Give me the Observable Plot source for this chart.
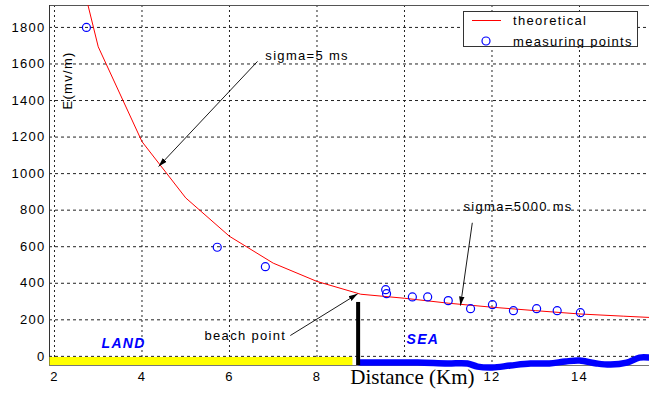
<!DOCTYPE html>
<html><head><meta charset="utf-8">
<script src="https://cdn.jsdelivr.net/npm/d3@7"></script>
<script src="https://cdn.jsdelivr.net/npm/@observablehq/plot@0.6"></script>
<style>
body{margin:0;background:#fff;}
#wrap{position:relative;width:649px;height:394px;}
#legend{position:absolute;left:463px;top:11px;}
svg text{letter-spacing:1.3px;}
</style></head><body><div id="wrap"></div>
<script>
// theoretical curve
const curveX = [2.5, 3, 4, 5, 6, 7, 8, 9, 10, 11, 12, 13, 14, 15, 15.6];
const curveE = [2180, 1694, 1175, 867, 657, 510, 410, 340, 318, 291, 269, 250, 232, 220, 213];
// measuring points
const pointX = [2.73, 5.72, 6.82, 9.57, 9.59, 10.18, 10.53, 11.0, 11.51, 12.01, 12.49, 13.02, 13.49, 14.02];
const pointE = [1800, 597, 491, 365, 343, 325, 325, 305, 261, 283, 250, 261, 250, 239];
// land / sea strips
const landX = [1.886, 8.81];
const landE = [-26, -26];
const seaX = [8.99, 9.45, 10.30, 10.98, 11.44, 11.67, 12.01, 12.42, 12.88, 13.31, 13.68, 14.0, 14.39, 14.71, 15.08, 15.37, 15.6];
const seaE = [-34, -34, -34, -39, -39, -56, -61, -50, -39, -39, -28, -23, -39, -45, -34, -7, -7];
// beach marker
const beachX = [8.94];
const beachTop = [295];
// ticks
const xGrid = [2, 4, 6, 8, 10, 12, 14];
const xTickLabels = [2, 4, 6, 8, 12, 14];
const yTicks = [0, 200, 400, 600, 800, 1000, 1200, 1400, 1600, 1800];
const xDomain = [1.886, 15.6];
const yDomain = [-50, 1920];
// annotations
const noteText = ["sigma=5 ms", "sigma=5000 ms", "beach point"];
const noteX = [6.82, 11.35, 5.43];
const noteE = [1646, 820, 114];
const arrowX1 = [6.64, 11.55, 7.39];
const arrowE1 = [1614, 731, 114];
const arrowX2 = [4.38, 11.28, 8.93];
const arrowE2 = [1039, 278, 342];
const zoneText = ["LAND", "SEA"];
const zoneX = [3.58, 10.42];
const zoneE = [70, 92];

const curve = curveX.map((x, i) => ({x, y: curveE[i]}));
const points = pointX.map((x, i) => ({x, y: pointE[i]}));
const land = landX.map((x, i) => ({x, y: landE[i]}));
const sea = seaX.map((x, i) => ({x, y: seaE[i]}));
const notes = noteText.map((t, i) => ({t, x: noteX[i], y: noteE[i]}));
const arrows = arrowX1.map((x1, i) => ({x1, y1: arrowE1[i], x2: arrowX2[i], y2: arrowE2[i]}));
const zones = zoneText.map((t, i) => ({t, x: zoneX[i], y: zoneE[i]}));

const headMarker = (color, context) => {
  const m = d3.create("svg:marker")
    .attr("viewBox", "-9 -4 10 8")
    .attr("markerWidth", 10).attr("markerHeight", 8)
    .attr("markerUnits", "userSpaceOnUse")
    .attr("orient", "auto")
    .attr("refX", 0).attr("refY", 0);
  m.append("path").attr("d", "M-9,-2.7L0,0L-9,2.7Z").attr("fill", "#000").attr("stroke", "none");
  return m.node();
};

const font = "Liberation Sans, Arial, sans-serif";
const plot = Plot.plot({
  width: 649, height: 394,
  marginLeft: 49, marginRight: 0, marginTop: 5, marginBottom: 29,
  style: {background: "#fff", color: "#000", fontFamily: font, fontSize: "13px", overflow: "visible"},
  x: {domain: xDomain},
  y: {domain: yDomain},
  marks: [
    Plot.gridX(xGrid, {stroke: "#222", strokeOpacity: 1, strokeDasharray: "2,3"}),
    Plot.gridY(yTicks, {stroke: "#222", strokeOpacity: 1, strokeDasharray: "3,3"}),
    Plot.ruleY([yDomain[1]], {stroke: "#555", strokeWidth: 1}),
    Plot.ruleY([yDomain[0]], {stroke: "#777", strokeWidth: 1}),
    Plot.ruleX([xDomain[0]], {stroke: "#333", strokeWidth: 1}),
    Plot.line(land, {x: "x", y: "y", stroke: "#ffff00", strokeWidth: 8, strokeLinecap: "butt"}),
    Plot.line(sea, {x: "x", y: "y", stroke: "#0000ff", strokeWidth: 6.5, curve: "catmull-rom", strokeLinecap: "round"}),
    Plot.ruleX(beachX, {x: d => d, y1: beachTop[0], y2: yDomain[0], stroke: "#000", strokeWidth: 4}),
    Plot.line(curve, {x: "x", y: "y", stroke: "#ff0000", strokeWidth: 1, clip: true}),
    Plot.dot(points, {x: "x", y: "y", r: 4, stroke: "#0000ff", strokeWidth: 1.2, fill: "none"}),
    Plot.link(arrows, {x1: "x1", y1: "y1", x2: "x2", y2: "y2", stroke: "#000", strokeWidth: 0.9, markerEnd: headMarker}),
    Plot.text(notes, {x: "x", y: "y", text: "t", textAnchor: "start", fontSize: 13, fontFamily: font, fill: "#000"}),
    Plot.text(zones, {x: "x", y: "y", text: "t", fontSize: 14, fontWeight: "bold", fontStyle: "italic", fontFamily: font, fill: "#0000ff"}),
    Plot.text(["E(mv/m)"], {x: () => 2.3, y: () => 1510, rotate: -90, fontSize: 13, fontFamily: font, fill: "#000"}),
    Plot.axisY(yTicks, {tickSize: 0, tickPadding: 4, fontSize: 13, fontFamily: font, label: null, tickFormat: d => String(d)}),
    Plot.axisX(xTickLabels, {tickSize: 0, tickPadding: 6, fontSize: 13, fontFamily: font, label: null, tickFormat: d => String(d)}),
    Plot.text(["Distance (Km)"], {x: () => 10.18, frameAnchor: "bottom", dy: 18, fontSize: 21, fontFamily: "Liberation Serif, Times New Roman, serif", fill: "#000"})
  ]
});
d3.select(plot).selectAll("text").filter(function() { return this.textContent === "Distance (Km)"; }).style("letter-spacing", "0px");
const wrap = document.getElementById("wrap");
wrap.appendChild(plot);

// legend overlay
const legendLabels = ["theoretical", "measuring points"];
const lg = d3.select(wrap).append("svg").attr("id", "legend").attr("width", 176).attr("height", 37);
lg.append("rect").attr("x", 0.5).attr("y", 0.5).attr("width", 174).attr("height", 35).attr("fill", "#fff").attr("stroke", "#333");
lg.append("line").attr("x1", 9).attr("x2", 38).attr("y1", 9.5).attr("y2", 9.5).attr("stroke", "#ff0000").attr("stroke-width", 1);
lg.append("circle").attr("cx", 23).attr("cy", 30).attr("r", 4).attr("fill", "none").attr("stroke", "#0000ff").attr("stroke-width", 1.2);
lg.selectAll("text.l").data(legendLabels).join("text")
  .attr("x", 50).attr("y", (d, i) => 14 + i * 21)
  .attr("font-family", font).attr("font-size", 13).attr("fill", "#000")
  .text(d => d);
</script></body></html>
